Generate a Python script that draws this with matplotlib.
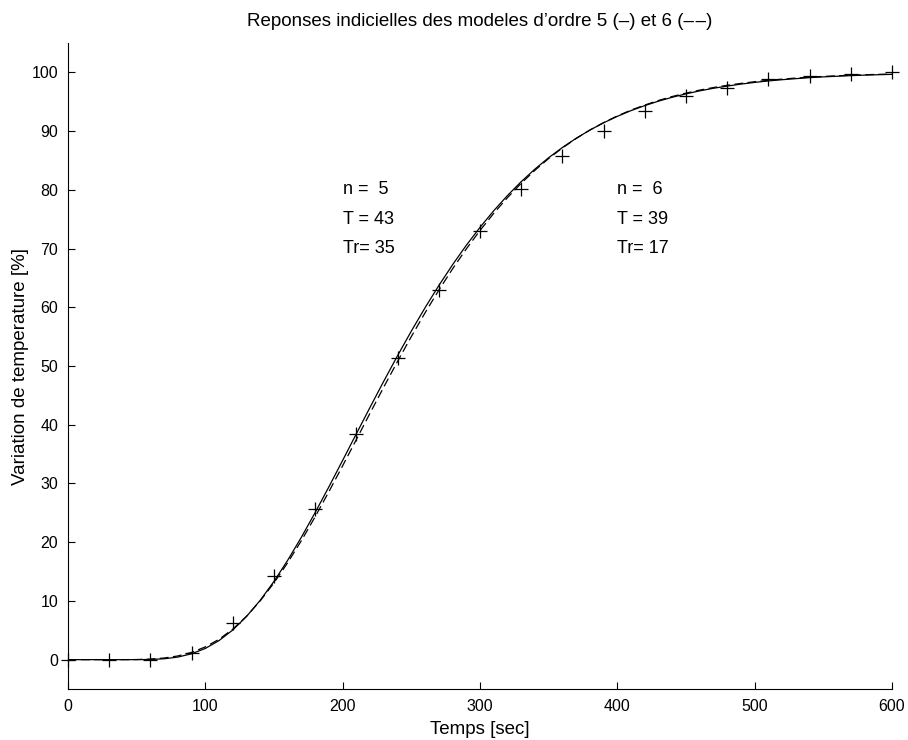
import matplotlib
matplotlib.use("Agg")
import matplotlib.pyplot as plt

plt.rcParams['font.family'] = ['Liberation Sans', 'DejaVu Sans']

# time axis of the model curves [sec]
t_model = list(range(0, 601, 10))

# model of order 5 (solid line)
y_order5 = [0, 0, 0, 0, 0.0, 0.0, 0.03, 0.15, 0.44, 1.00,
            1.91, 3.25, 5.05, 7.36, 10.12, 13.33, 16.94, 20.87, 25.07, 29.44,
            33.94, 38.48, 43.00, 47.45, 51.78, 55.95, 59.93, 63.70, 67.24, 70.55,
            73.61, 76.44, 79.03, 81.39, 83.53, 85.47, 87.21, 88.77, 90.17, 91.41,
            92.51, 93.49, 94.34, 95.10, 95.76, 96.34, 96.85, 97.29, 97.66, 98.00,
            98.29, 98.54, 98.75, 98.93, 99.10, 99.23, 99.34, 99.44, 99.53, 99.60,
            99.66]

# model of order 6 (dashed line)
y_order6 = [0, 0, 0, 0, 0.00, 0.02, 0.10, 0.28, 0.63, 1.24,
            2.17, 3.47, 5.21, 7.39, 10.02, 13.08, 16.52, 20.29, 24.35, 28.62,
            33.02, 37.50, 42.00, 46.45, 50.80, 55.02, 59.06, 62.91, 66.54, 69.93,
            73.08, 76.00, 78.67, 81.11, 83.33, 85.33, 87.13, 88.74, 90.18, 91.45,
            92.58, 93.58, 94.44, 95.22, 95.89, 96.47, 96.98, 97.42, 97.80, 98.12,
            98.41, 98.65, 98.85, 99.03, 99.18, 99.31, 99.42, 99.51, 99.59, 99.66,
            99.71]

# measured points (+)
t_meas = list(range(0, 601, 30))
y_meas = [0, 0, 0, 1.2, 6.2, 14.2, 25.6, 38.5, 51.4, 62.9,
          73.0, 80.1, 85.8, 90.0, 93.5, 95.9, 97.3, 98.8, 99.4, 99.8,
          100.0]

params5 = ['n =  5', 'T = 43', 'Tr= 35']
params6 = ['n =  6', 'T = 39', 'Tr= 17']
param_y = [80, 75, 70]

fig = plt.figure(figsize=(9.08, 7.40), dpi=100)
ax = fig.add_axes([0.0749, 0.0689, 0.9075, 0.873])

ax.plot(t_meas, y_meas, linestyle='none', marker='+', markersize=10,
        markeredgewidth=0.9, color='black', clip_on=False)
ax.plot(t_model, y_order5, color='black', linewidth=0.9)
ax.plot(t_model, y_order6, color='black', linewidth=0.9, dashes=(7, 3.5))

for label, yy in zip(params5, param_y):
    ax.text(200, yy, label, fontsize=13, va='center', ha='left')
for label, yy in zip(params6, param_y):
    ax.text(400, yy, label, fontsize=13, va='center', ha='left')

ax.set_xlim(0, 600)
ax.set_ylim(-5, 105)
ax.set_xticks(range(0, 601, 100))
ax.set_yticks(range(0, 101, 10))
ax.tick_params(direction='in', length=5, width=0.8, labelsize=11.5, pad=7)
ax.spines['top'].set_visible(False)
ax.spines['right'].set_visible(False)
for s in ['left', 'bottom']:
    ax.spines[s].set_linewidth(0.8)

ax.set_xlabel('Temps [sec]', fontsize=13.5, labelpad=5)
ax.set_ylabel('Variation de temperature [%]', fontsize=13.5, labelpad=2)
ax.set_title('Reponses indicielles des modeles d\u2019ordre 5 (\u2013) et 6 (\u2013\u200a\u2013)',
             fontsize=13.5, pad=12)

fig.savefig('out.png', dpi=100)
